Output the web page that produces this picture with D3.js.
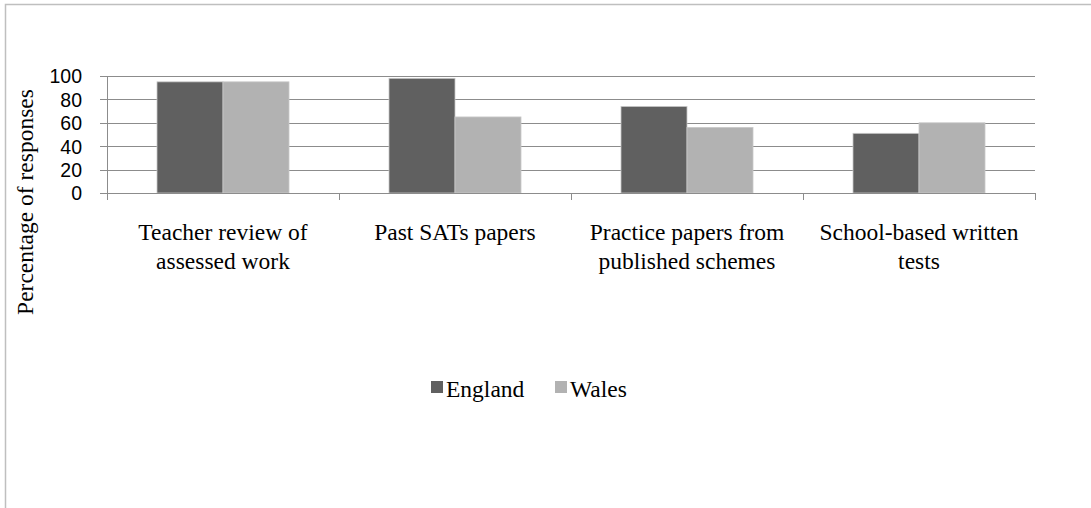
<!DOCTYPE html>
<html><head><meta charset="utf-8">
<script src="https://cdn.jsdelivr.net/npm/d3@7"></script>
<style>html,body{margin:0;padding:0;background:#fff;}svg{display:block;}</style>
</head><body>
<svg id="c" width="1091" height="508"></svg>
<script>
const categories = [["Teacher review of","assessed work"],["Past SATs papers"],["Practice papers from","published schemes"],["School-based written","tests"]];
const seriesNames = ["England","Wales"];
const england = [95, 98, 74, 51];
const wales = [95, 65, 56, 60];
const yTicks = [0,20,40,60,80,100];
const colors = ["#606060","#b2b2b2"];

const serif = "'Liberation Serif','Times New Roman',serif";
const svg = d3.select("#c");
// frame
svg.append("path").attr("d","M5.5,508 L5.5,4.5 L1091,4.5").attr("fill","none").attr("stroke","#bfbfbf").attr("stroke-width",1.5);

const L=107, R=1035, T=76, B=193;
const x = d3.scaleBand().domain(d3.range(categories.length)).range([L,R]).paddingInner(0).paddingOuter(0);
const y = d3.scaleLinear().domain([0,100]).range([B,T]);
const bw = 66;
const innerX = (i) => x.bandwidth()/2 - bw + i*bw;

// gridlines
svg.append("g").selectAll("line").data(yTicks.filter(d=>d>0)).join("line")
  .attr("x1",L-7).attr("x2",R).attr("y1",d=>Math.round(y(d))+0.5).attr("y2",d=>Math.round(y(d))+0.5)
  .attr("stroke","#8c8c8c").attr("stroke-width",1);

// bars
const data = categories.map((c,i)=>[england[i], wales[i]]);
const g = svg.append("g");
data.forEach((vals,i)=>{
  g.selectAll(null).data(vals).join("rect")
   .attr("x",(d,j)=>x(i)+innerX(j))
   .attr("y",d=>y(d))
   .attr("width",bw)
   .attr("height",d=>B-y(d))
   .attr("fill",(d,j)=>colors[j])
   .attr("stroke","#c8c8c8").attr("stroke-width",0.8);
});

// axes
const yAxis = d3.axisLeft(y).tickValues(yTicks).tickSize(0).tickPadding(25);
const ya = svg.append("g").attr("transform",`translate(${L},0)`).call(yAxis);
ya.select(".domain").attr("stroke","#8c8c8c");
ya.selectAll("text").attr("font-family","'Liberation Sans','Arial',sans-serif").attr("font-size",19.5).attr("fill","#000").attr("dy","0.35em");
svg.append("line").attr("x1",L-7).attr("x2",L).attr("y1",B+0.5).attr("y2",B+0.5).attr("stroke","#8c8c8c");

const xa = svg.append("g");
xa.append("line").attr("x1",L).attr("x2",R).attr("y1",B+0.5).attr("y2",B+0.5).attr("stroke","#8c8c8c");
xa.selectAll("line.t").data(d3.range(categories.length+1)).join("line").attr("class","t")
  .attr("x1",d=>Math.round(L+d*x.bandwidth())+0.5).attr("x2",d=>Math.round(L+d*x.bandwidth())+0.5)
  .attr("y1",B).attr("y2",B+7).attr("stroke","#8c8c8c");
categories.forEach((lines,i)=>{
  const t = xa.append("text").attr("x",x(i)+x.bandwidth()/2).attr("y",240)
    .attr("text-anchor","middle").attr("font-family",serif).attr("font-size",23.5).attr("fill","#000");
  lines.forEach((ln,k)=>t.append("tspan").attr("x",x(i)+x.bandwidth()/2).attr("y",240+k*29).text(ln));
});

// y title
svg.append("text").attr("transform","translate(33,202) rotate(-90)").attr("text-anchor","middle")
  .attr("font-family",serif).attr("font-size",23.5).attr("fill","#000")
  .text("Percentage of responses");

// legend
const legX = [431, 555];
const lg = svg.append("g");
seriesNames.forEach((s,i)=>{
  lg.append("rect").attr("x",legX[i]).attr("y",381).attr("width",12).attr("height",12).attr("fill",colors[i]);
  lg.append("text").attr("x",legX[i]+15).attr("y",397).attr("font-family",serif)
    .attr("font-size",23.5).attr("fill","#000").text(s);
});
</script>
</body></html>
